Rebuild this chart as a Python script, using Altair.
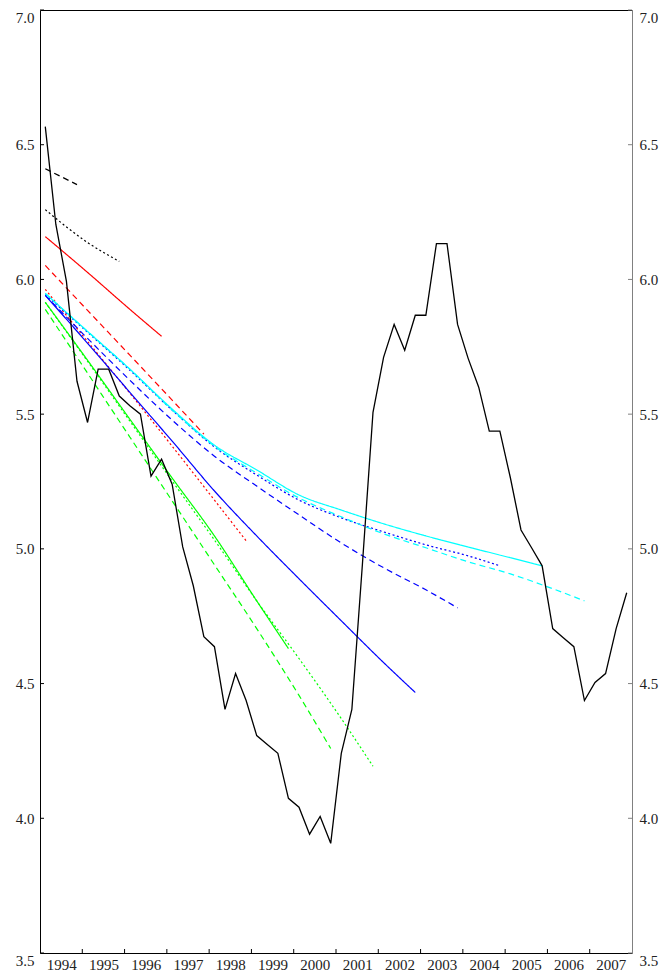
import altair as alt
import pandas as pd

# ---- data ----
actual_start_year = 1994
actual = [6.567, 6.204, 5.993, 5.622, 5.469, 5.667, 5.667, 5.567,
          5.531, 5.500, 5.270, 5.333, 5.240, 5.007, 4.863, 4.674,
          4.637, 4.404, 4.537, 4.437, 4.307, 4.274, 4.241, 4.074,
          4.041, 3.941, 4.007, 3.907, 4.241, 4.404, 4.944, 5.507,
          5.711, 5.833, 5.737, 5.867, 5.867, 6.133, 6.133, 5.833,
          5.707, 5.600, 5.437, 5.437, 5.263, 5.070, 5.004, 4.937,
          4.704, 4.670, 4.637, 4.437, 4.504, 4.537, 4.704, 4.837]

f1994 = [6.411, 6.352]
f1995 = [6.259, 6.137, 6.067]
f1996 = [6.159, 6.026, 5.889, 5.789]
f1997 = [6.052, 5.885, 5.719, 5.552, 5.426]
f1998 = [5.963, 5.770, 5.578, 5.381, 5.181, 5.030]
f1999 = [5.915, 5.700, 5.481, 5.263, 5.048, 4.807, 4.630]
f2000 = [5.889, 5.652, 5.415, 5.178, 4.941, 4.704, 4.456, 4.259]
f2001 = [5.915, 5.696, 5.474, 5.252, 5.033, 4.807, 4.593, 4.370, 4.193]
f2002 = [5.941, 5.763, 5.581, 5.400, 5.215, 5.048, 4.889, 4.733, 4.578, 4.467]
f2003 = [5.941, 5.781, 5.626, 5.478, 5.344, 5.233, 5.126, 5.022, 4.930, 4.848, 4.781]
f2004 = [5.944, 5.804, 5.663, 5.515, 5.378, 5.274, 5.181, 5.115, 5.063, 5.015, 4.974, 4.937]
f2005 = [5.948, 5.807, 5.667, 5.519, 5.385, 5.293, 5.200, 5.144, 5.093, 5.048, 5.007, 4.967, 4.937]
f2006 = [5.948, 5.807, 5.667, 5.515, 5.381, 5.281, 5.189, 5.119, 5.056, 5.004, 4.952, 4.907, 4.852, 4.807]

forecast_end_years = [1994, 1995, 1996, 1997, 1998, 1999, 2000, 2001, 2002, 2003, 2004, 2005, 2006]
forecast_values = [f1994, f1995, f1996, f1997, f1998, f1999, f2000, f2001,
                   f2002, f2003, f2004, f2005, f2006]
series_colors = ["#000000", "#000000", "#ff0000", "#ff0000", "#ff0000",
                 "#00ff00", "#00ff00", "#00ff00", "#0000ff", "#0000ff",
                 "#0000ff", "#00ffff", "#00ffff"]
series_dashes = [[6, 4], [2, 2.5], [1, 0], [6, 4], [2, 2.5],
                 [1, 0], [6, 4], [2, 2.5], [1, 0], [6, 4],
                 [2, 2.5], [1, 0], [6, 4]]

y_ticks = [3.5, 4.0, 4.5, 5.0, 5.5, 6.0, 6.5, 7.0]
year_bounds = list(range(1995, 2008))
year_centers = [y + 0.5 for y in range(1994, 2008)]

# ---- tables ----
act_df = pd.DataFrame({
    "t": [actual_start_year + (i + 0.5) / 4 for i in range(len(actual))],
    "v": actual,
})

rows = []
for end_y, vals in zip(forecast_end_years, forecast_values):
    name = f"f{end_y}"
    times = [y + 0.125 for y in range(1994, end_y + 1)] + [end_y + 0.875]
    for t, v in zip(times, vals):
        rows.append({"series": name, "t": t, "v": v})
fc_df = pd.DataFrame(rows)
names = [f"f{y}" for y in forecast_end_years]

W, H = 592, 943
FONT = "Liberation Serif, Times New Roman, serif"
FS = 15
LC = "#222222"

xs = alt.Scale(domain=[1994, 2008], nice=False, zero=False)
ys = alt.Scale(domain=[3.5, 7.0], nice=False, zero=False)

baseline_cond = {"condition": {"test": "datum.value >= 6.99 || datum.value <= 3.51",
                               "value": "top"},
                 "value": "middle"}

x_bottom = alt.Axis(orient="bottom", values=year_centers, labelExpr="floor(datum.value)",
                    ticks=False, grid=False, title=None, domainColor="black",
                    labelPadding=4, labelFont=FONT, labelFontSize=FS, labelColor=LC,
                    labelAngle=0)
y_left = alt.Axis(orient="left", values=y_ticks, format=".1f", ticks=False, grid=False,
                  title=None, domainColor="black", labelPadding=6, labelFont=FONT,
                  labelFontSize=FS, labelColor=LC, labelBaseline=baseline_cond)
x_top = alt.Axis(orient="top", labels=False, ticks=False, grid=False, title=None,
                 domainColor="black")
y_right = alt.Axis(orient="right", values=y_ticks, format=".1f", ticks=False, grid=False,
                   title=None, domainColor="#808080", labelPadding=7, labelFont=FONT,
                   labelFontSize=FS, labelColor=LC, labelBaseline=baseline_cond)

fc = alt.Chart(fc_df).mark_line(strokeWidth=1.2, interpolate="monotone").encode(
    x=alt.X("t:Q", scale=xs, axis=x_bottom),
    y=alt.Y("v:Q", scale=ys, axis=y_left),
    color=alt.Color("series:N", scale=alt.Scale(domain=names, range=series_colors), legend=None),
    strokeDash=alt.StrokeDash("series:N", scale=alt.Scale(domain=names, range=series_dashes), legend=None),
)

act = alt.Chart(act_df).mark_line(color="black", strokeWidth=1.3).encode(
    x=alt.X("t:Q", scale=xs, axis=x_top),
    y=alt.Y("v:Q", scale=ys, axis=y_right),
)

ytick_df = pd.DataFrame({"v": y_ticks})
left_ticks = alt.Chart(ytick_df).mark_rule(color="black").encode(
    y=alt.Y("v:Q", scale=ys, axis=None), x=alt.value(0), x2=alt.value(4))
right_ticks = alt.Chart(ytick_df).mark_rule(color="#808080").encode(
    y=alt.Y("v:Q", scale=ys, axis=None), x=alt.value(W - 4), x2=alt.value(W))
bottom_ticks = alt.Chart(pd.DataFrame({"t": year_bounds})).mark_rule(color="black").encode(
    x=alt.X("t:Q", scale=xs, axis=None), y=alt.value(H - 4), y2=alt.value(H))

chart = alt.layer(fc, act, left_ticks, right_ticks, bottom_ticks).resolve_axis(
    x="independent", y="independent"
).properties(
    width=W, height=H,
    autosize=alt.AutoSizeParams(type="none"),
    padding={"left": 32, "top": 2, "right": 27, "bottom": 22},
).configure_view(stroke=None)

chart.save("out.html", embed_options={"renderer": "svg", "actions": False})
